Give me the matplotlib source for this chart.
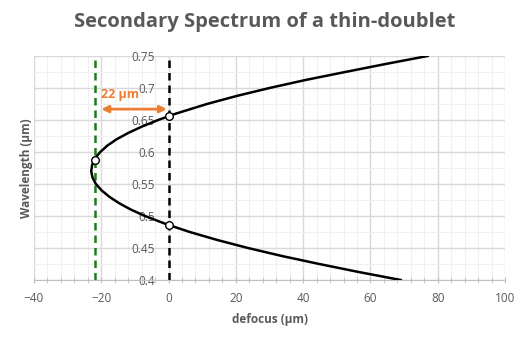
import numpy as np
import matplotlib
matplotlib.use("Agg")
import matplotlib.pyplot as plt
from matplotlib.ticker import MultipleLocator

# curve: wavelength (um) vs defocus (um)
wavelength = [0.400, 0.4125, 0.425, 0.4375, 0.450, 0.4625, 0.475, 0.4875,
              0.500, 0.510, 0.520, 0.530, 0.540, 0.550, 0.560, 0.570, 0.580,
              0.590, 0.600, 0.610, 0.620, 0.630, 0.640, 0.650, 0.660, 0.675,
              0.6875, 0.700, 0.7125, 0.725, 0.7375, 0.750]
defocus = [69.0, 56.5, 44.8, 33.7, 23.6, 14.5, 6.3, -0.8,
           -7.0, -11.2, -14.7, -17.6, -19.9, -21.6, -22.6, -23.0, -22.7,
           -21.9, -20.3, -18.2, -15.4, -11.9, -7.8, -3.1, 2.2, 11.4,
           20.2, 30.0, 40.7, 52.5, 64.5, 77.0]

# marked points
mark_x = [0, 0, -22]
mark_y = [0.656, 0.486, 0.587]

focus_line = 0      # black dashed
best_line = -22     # green dashed
gap_label = "22 µm"

grey = "#595959"
plt.rcParams['font.family'] = ['Open Sans', 'DejaVu Sans']

fig = plt.figure(figsize=(5.29, 3.41), dpi=100)
ax = fig.add_axes([34 / 529, 1 - 280 / 341, 471 / 529, 224 / 341])

ax.set_xlim(-40, 100)
ax.set_ylim(0.4, 0.75)
ax.xaxis.set_major_locator(MultipleLocator(20))
ax.xaxis.set_minor_locator(MultipleLocator(4))
ax.yaxis.set_major_locator(MultipleLocator(0.05))
ax.yaxis.set_minor_locator(MultipleLocator(0.025))
ax.grid(which='major', color='#d9d9d9', lw=1)
ax.grid(which='minor', color='#f0f0f0', lw=0.8)
ax.set_axisbelow(True)

for s in ['top', 'right']:
    ax.spines[s].set_visible(False)
ax.spines['left'].set_position(('data', 0))
ax.spines['left'].set_visible(False)
ax.spines['bottom'].set_color('#bfbfbf')

ax.tick_params(axis='x', which='both', direction='inout', color='#bfbfbf',
               labelcolor=grey, labelsize=8.5, pad=6)
ax.tick_params(axis='x', which='major', length=5)
ax.tick_params(axis='x', which='minor', length=4)
ax.tick_params(axis='y', which='both', length=0, labelcolor=grey,
               labelsize=8.5, pad=10)
ax.set_yticks([0.4, 0.45, 0.5, 0.55, 0.6, 0.65, 0.7, 0.75])
ax.set_yticklabels(["0.4", "0.45", "0.5", "0.55", "0.6", "0.65", "0.7", "0.75"])

ax.plot(defocus, wavelength, color='black', lw=1.8, zorder=3)
ax.axvline(focus_line, color='black', lw=1.8, ls=(0, (3, 2)), zorder=2)
ax.axvline(best_line, color='#1f7a1f', lw=1.8, ls=(0, (3, 2)), zorder=2)
ax.plot(mark_x, mark_y, 'o', ms=5.5, mfc='white', mec='black', mew=1, zorder=4)

ax.annotate('', xy=(-0.5, 0.667), xytext=(-20, 0.667),
            arrowprops=dict(arrowstyle='<|-|>', color='#ed7d31', lw=2,
                            mutation_scale=10, shrinkA=0, shrinkB=0))
ax.text(-20, 0.69, gap_label, color='#ed7d31', fontsize=9,
        fontweight='bold', va='center', ha='left')

ax.set_xlabel("defocus (µm)", color=grey, fontsize=8.5, fontweight='bold',
              labelpad=6)
ax.set_ylabel("Wavelength (µm)", color=grey, fontsize=8.5, fontweight='bold')
ax.yaxis.set_label_coords(-1 / 471, 0.5)
fig.text(0.5, 1 - 22 / 341, "Secondary Spectrum of a thin-doublet",
         ha='center', va='center', color=grey, fontsize=14.5,
         fontweight='bold')

fig.savefig("out.png", dpi=100)
